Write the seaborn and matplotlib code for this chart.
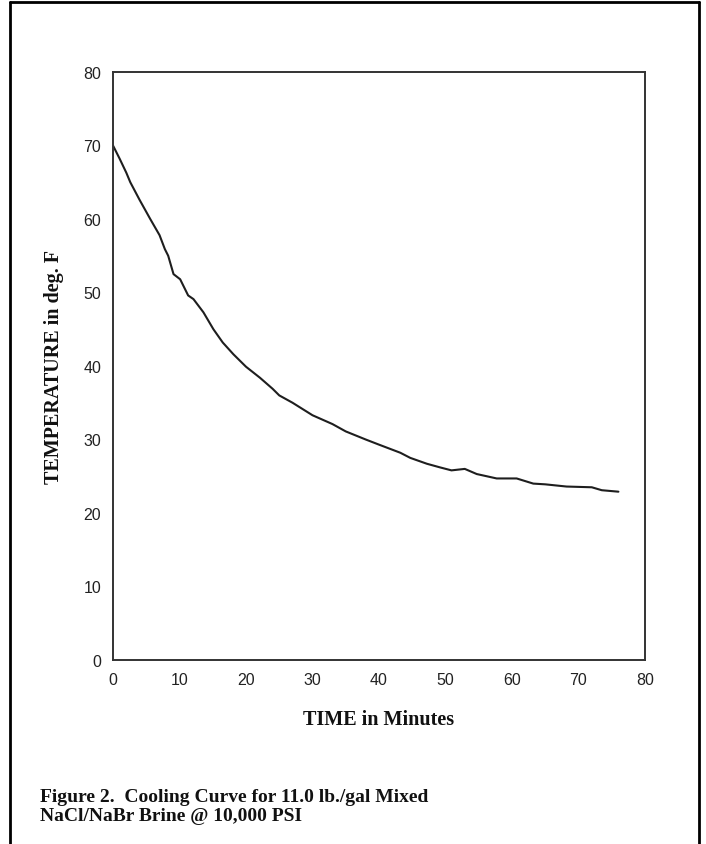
import matplotlib
matplotlib.use("Agg")
import matplotlib.pyplot as plt
import seaborn as sns
import pandas as pd

time_min = [0, 1, 2, 2.6, 4, 5.6, 7, 7.8, 8.3, 9.1, 10.1, 11.3, 12.1, 13.6, 15.1,
            16.5, 18.1, 20, 22.1, 24, 25, 27, 30, 33, 35, 38, 40, 43.2, 44.7,
            47.2, 49.2, 50.9, 52.9, 54.7, 57.7, 60.7, 63.2, 65, 68.2, 72.0, 73.5, 76.0]
temp_f = [70, 68.2, 66.3, 65.0, 62.6, 60, 57.8, 55.9, 55, 52.5, 51.8, 49.6, 49.1, 47.3, 45,
          43.2, 41.6, 39.9, 38.4, 36.9, 36, 35, 33.3, 32.1, 31.1, 30.0, 29.3, 28.2, 27.5,
          26.7, 26.2, 25.8, 26.0, 25.3, 24.7, 24.7, 24.0, 23.9, 23.6, 23.5, 23.1, 22.9]

x_ticks = [0, 10, 20, 30, 40, 50, 60, 70, 80]
y_ticks = [0, 10, 20, 30, 40, 50, 60, 70, 80]

x_label = "TIME in Minutes"
y_label = "TEMPERATURE in deg. F"
caption = "Figure 2.  Cooling Curve for 11.0 lb./gal Mixed\nNaCl/NaBr Brine @ 10,000 PSI"

sns.set_theme(style="white")
plt.rcParams['font.family'] = ['Liberation Sans', 'DejaVu Sans']

df = pd.DataFrame({"t": time_min, "T": temp_f})

fig = plt.figure(figsize=(7.06, 8.45), dpi=100)
ax = fig.add_axes([113/706, 1 - 661/845, (645-113)/706, (661-73)/845])

sns.lineplot(data=df, x="t", y="T", ax=ax, color="#1e1e1e", linewidth=1.5)

ax.set_xlim(0, 80)
ax.set_ylim(0, 80)
ax.set_xticks(x_ticks)
ax.set_yticks(y_ticks)
ax.set_xticklabels([str(v) for v in x_ticks])
ax.set_yticklabels([str(v) for v in y_ticks])
ax.tick_params(axis='both', direction='inout', length=7, width=1, color="#333333",
               labelsize=11.5, pad=5, labelcolor="#222222")
for s in ax.spines.values():
    s.set_visible(True)
    s.set_color("#333333")
    s.set_linewidth(1.4)

ax.set_xlabel(x_label, family=['Liberation Serif'], fontweight='bold', fontsize=14.5,
              labelpad=16, color="#111111")
ax.set_ylabel(y_label, family=['Liberation Serif'], fontweight='bold', fontsize=14.5,
              labelpad=14, color="#111111")

fig.text(40/706, 1 - 789/845, caption, family=['Liberation Serif'], fontweight='bold',
         fontsize=14, va='top', ha='left', linespacing=1.15, color="#111111")

# outer frame (open at the bottom)
fig.add_artist(plt.Line2D([10/706, 10/706], [0, 1 - 3/845], transform=fig.transFigure,
                          color="black", linewidth=2))
fig.add_artist(plt.Line2D([699/706, 699/706], [0, 1 - 3/845], transform=fig.transFigure,
                          color="black", linewidth=2))
fig.add_artist(plt.Line2D([10/706, 699/706], [1 - 3/845, 1 - 3/845], transform=fig.transFigure,
                          color="black", linewidth=2))

fig.savefig("out.png", dpi=100, facecolor="white")
